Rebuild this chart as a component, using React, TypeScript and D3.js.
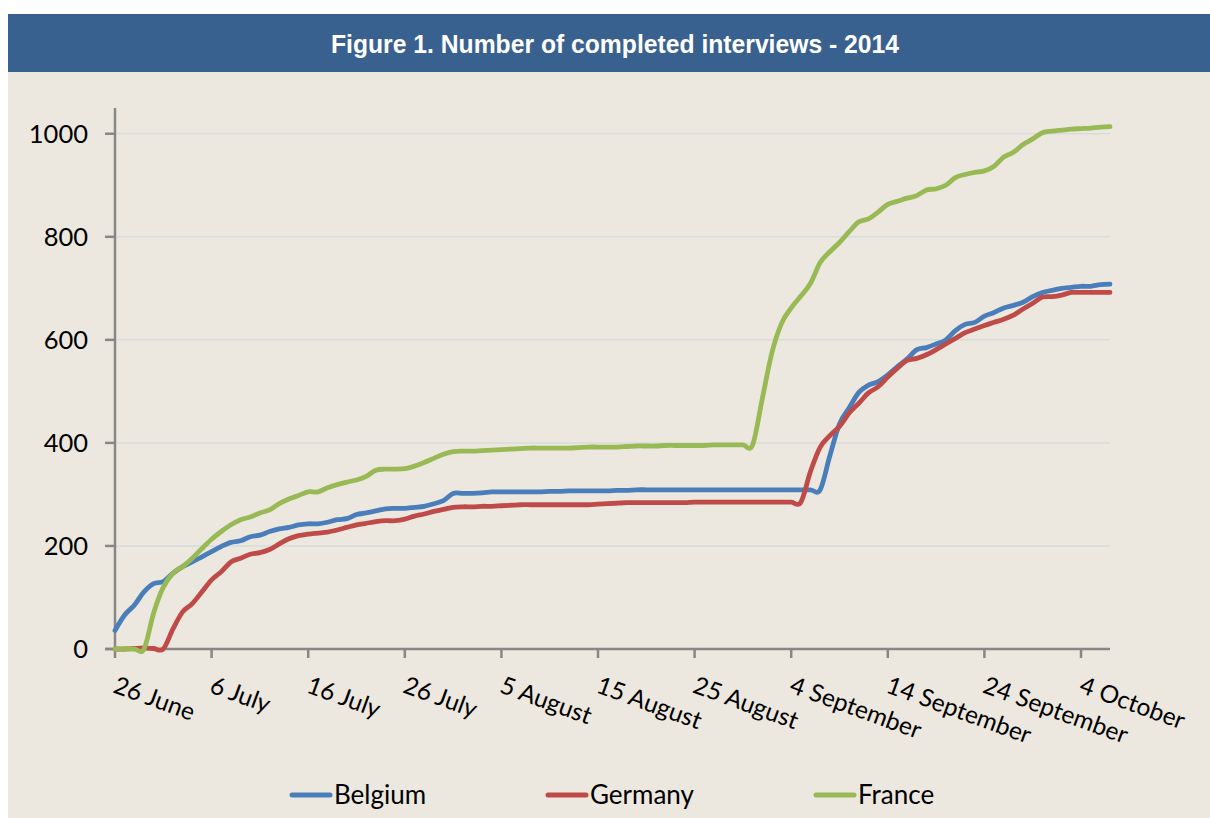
import React from "react";
import * as d3 from "d3";

// ---- data (daily values, first day = 26 June 2014) ----
const startDate = new Date(2014, 5, 26);

const belgium = [
  36, 66, 85, 111, 127, 131, 147, 160, 169, 179,
  189, 199, 207, 210, 218, 221, 228, 233, 236, 241,
  243, 243, 246, 251, 253, 261, 264, 268, 272, 273,
  273, 275, 277, 282, 288, 302, 302, 302, 303, 305,
  305, 305, 305, 305, 305, 306, 306, 307, 307, 307,
  307, 307, 308, 308, 309, 309, 309, 309, 309, 309,
  309, 309, 309, 309, 309, 309, 309, 309, 309, 309,
  309, 309, 309, 309, 375, 437, 468, 498, 512, 519,
  532, 548, 563, 581, 585, 592, 600, 618, 630, 634,
  646, 653, 662, 667, 673, 684, 692, 696, 700, 702,
  704, 704, 707, 708,
];

const germany = [
  0, 0, 1, 2, 1, 0, 39, 72, 88, 111,
  134, 150, 169, 176, 184, 187, 193, 204, 214, 220,
  223, 225, 227, 231, 236, 241, 244, 247, 249, 249,
  252, 258, 262, 267, 271, 275, 276, 276, 277, 277,
  278, 279, 280, 280, 280, 280, 280, 280, 280, 280,
  281, 282, 283, 284, 284, 284, 284, 284, 284, 284,
  285, 285, 285, 285, 285, 285, 285, 285, 285, 285,
  285, 285, 345, 392, 414, 432, 458, 477, 497, 509,
  528, 545, 560, 564, 571, 581, 592, 603, 614, 621,
  628, 634, 640, 648, 660, 671, 683, 684, 687, 692,
  692, 692, 692, 692,
];

const france = [
  0, 0, 0, 0, 70, 120, 147, 160, 176, 195,
  213, 228, 241, 251, 256, 264, 270, 282, 291, 298,
  305, 305, 313, 319, 324, 328, 335, 347, 349, 349,
  350, 355, 362, 370, 378, 383, 384, 384, 385, 386,
  387, 388, 389, 390, 390, 390, 390, 390, 391, 392,
  392, 392, 392, 393, 394, 394, 394, 395, 395, 395,
  395, 395, 396, 396, 396, 396, 396, 485, 575, 632,
  662, 685, 710, 750, 771, 789, 810, 829, 835, 848,
  863, 869, 875, 880, 891, 893, 900, 915, 921, 925,
  928, 937, 955, 964, 979, 990, 1002, 1005, 1007, 1009,
  1010, 1011, 1013, 1014,
];

const seriesNames = ["Belgium", "Germany", "France"];
const seriesColors = ["#4A7EBB", "#BE4B48", "#98B954"];
const seriesValues = [belgium, germany, france];

const xTickLabels = [
  "26 June", "6 July", "16 July", "26 July", "5 August", "15 August",
  "25 August", "4 September", "14 September", "24 September", "4 October",
];
const yTicks = [0, 200, 400, 600, 800, 1000];
const title = "Figure 1. Number of completed interviews - 2014";

const W = 1210;
const H = 818;
const plot = { left: 115, right: 1110, top: 108, bottom: 649 };
const font = "Lato, 'Open Sans', sans-serif";

export default function App() {
  const dayMs = 24 * 3600 * 1000;
  const dateAt = (i: number) => new Date(startDate.getTime() + i * dayMs);
  const endDate = dateAt(belgium.length - 1);

  const x = d3.scaleTime().domain([startDate, endDate]).range([plot.left, plot.right]);
  const y = d3.scaleLinear().domain([0, 1050]).range([plot.bottom, plot.top]);

  const line = d3
    .line<number>()
    .x((_, i) => x(dateAt(i)))
    .y((v) => y(v))
    .curve(d3.curveCardinal.tension(0));

  const xTickDates = xTickLabels.map((_, i) => dateAt(i * 10));

  const legendX = [292, 548, 816];

  return (
    <svg
      width={W}
      height={H}
      style={{ position: "absolute", left: 0, top: 0, background: "#ffffff" }}
    >
      <rect x={8} y={14} width={W - 8} height={H - 14} fill="#ECE8DF" />
      <rect x={8} y={14} width={W - 8} height={58} fill="#39618F" />
      <text
        x={615}
        y={53}
        textAnchor="middle"
        fill="#ffffff"
        fontFamily="'Liberation Sans Narrow', 'Arial Narrow', 'Liberation Sans', sans-serif"
        fontWeight="bold"
        fontSize={26}
        textLength={568}
        lengthAdjust="spacingAndGlyphs"
      >
        {title}
      </text>

      {/* gridlines */}
      {yTicks.slice(1).map((t) => (
        <line
          key={"g" + t}
          x1={plot.left}
          x2={plot.right}
          y1={y(t)}
          y2={y(t)}
          stroke="#D9DCDC"
          strokeWidth={1.5}
        />
      ))}

      {/* y axis */}
      <line x1={plot.left} x2={plot.left} y1={plot.top} y2={plot.bottom} stroke="#878787" strokeWidth={2.5} />
      {yTicks.map((t) => (
        <g key={"y" + t}>
          <line x1={plot.left - 10} x2={plot.left} y1={y(t)} y2={y(t)} stroke="#878787" strokeWidth={2.5} />
          <text
            x={88}
            y={y(t)}
            dy="0.36em"
            textAnchor="end"
            fontFamily={font}
            fontSize={25.5}
            fill="#000"
          >
            {t}
          </text>
        </g>
      ))}

      {/* x axis */}
      <line x1={plot.left - 10} x2={plot.right} y1={plot.bottom} y2={plot.bottom} stroke="#878787" strokeWidth={2.5} />
      {xTickDates.map((d, i) => (
        <g key={"x" + i}>
          <line x1={x(d)} x2={x(d)} y1={plot.bottom} y2={plot.bottom + 9} stroke="#878787" strokeWidth={2.5} />
          <text
            transform={`translate(${x(d) - 3},${692}) rotate(20)`}
            textAnchor="start"
            fontFamily={font}
            fontSize={24.5}
            fill="#000"
          >
            {xTickLabels[i]}
          </text>
        </g>
      ))}

      {/* series */}
      {seriesValues.map((vals, k) => (
        <path
          key={seriesNames[k]}
          d={line(vals) || ""}
          fill="none"
          stroke={seriesColors[k]}
          strokeWidth={4.8}
          strokeLinejoin="round"
          strokeLinecap="round"
        />
      ))}

      {/* legend */}
      {seriesNames.map((n, k) => (
        <g key={"l" + n}>
          <line
            x1={legendX[k]}
            x2={legendX[k] + 38}
            y1={795}
            y2={795}
            stroke={seriesColors[k]}
            strokeWidth={5}
            strokeLinecap="round"
          />
          <text x={legendX[k] + 42} y={804} fontFamily={font} fontSize={26} fill="#000">
            {n}
          </text>
        </g>
      ))}
    </svg>
  );
}
